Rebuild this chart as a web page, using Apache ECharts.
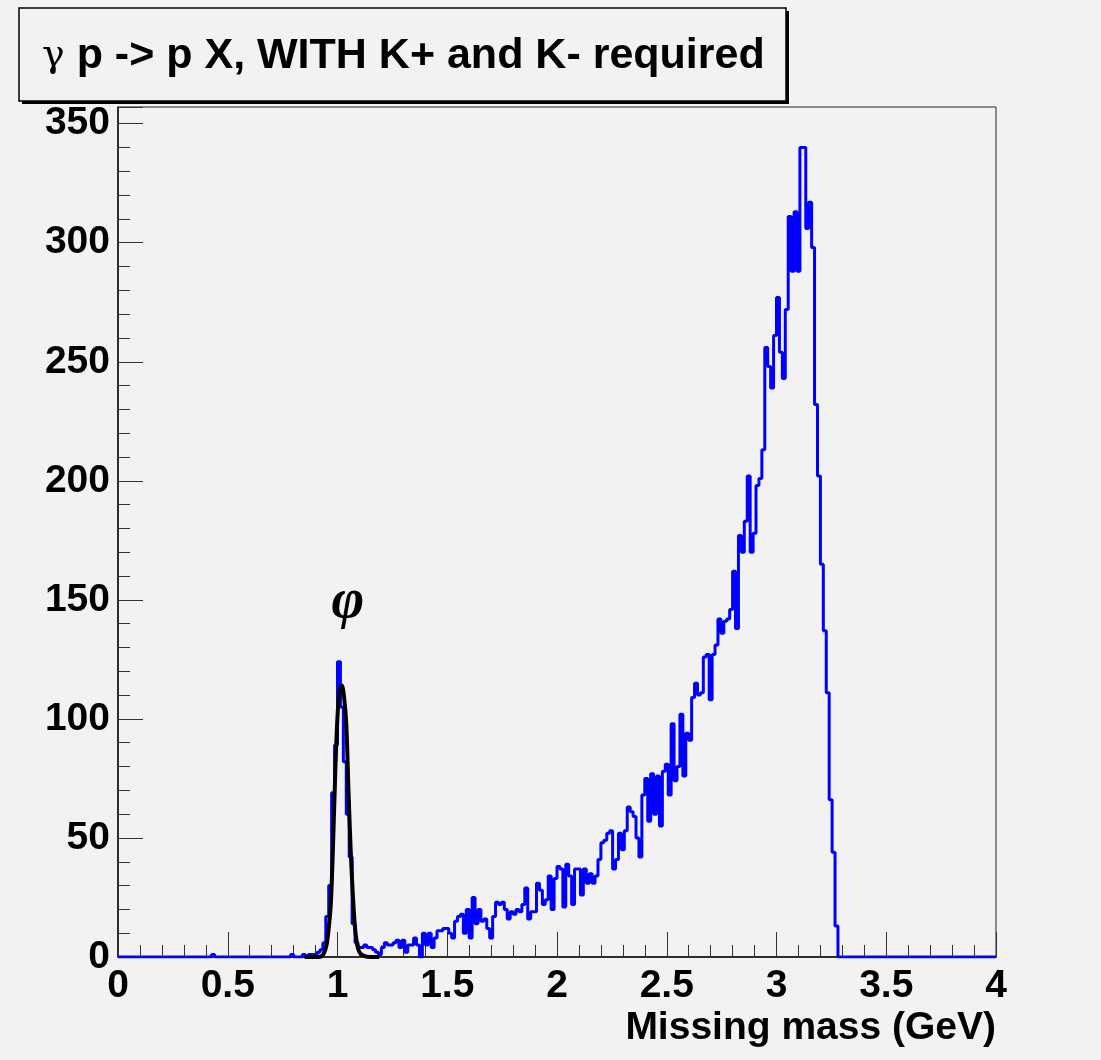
<!DOCTYPE html>
<html>
<head>
<meta charset="utf-8">
<script src="https://cdn.jsdelivr.net/npm/echarts@6/dist/echarts.min.js"></script>
<style>
html,body{margin:0;padding:0;background:#f2f2f2;}
#chart{width:1101px;height:1060px;}
</style>
</head>
<body>
<div id="chart"></div>
<script>
// Histogram: 300 bins from 0 to 4 GeV
const xMin = 0, xMax = 4, nBins = 300;
const counts = [
 0,0,0,0,0,0,0,0,0,0, 0,0,0,0,0,0,0,0,0,0, 0,0,0,0,0,0,0,0,0,0, 0,0,1,0,0,0,0,0,0,0,
 0,0,0,0,0,0,0,0,0,0, 0,0,0,0,0,0,0,0,0,1, 0,0,0,1,0,1,1,1,2,3,
 6,17,30,69,89,124,105,82,60,42, 14,6,4,4,5,4,4,3,2,1,
 4,6,5,5,6,7,4,7,2,5, 5,8,5,0,10,5,10,4,8,11,
 11,12,12,10,8,15,17,18,10,20, 8,25,14,20,15,16,12,8,17,23,
 22,23,20,16,19,18,20,19,22,29, 16,19,19,31,28,22,24,34,20,33,
 38,37,21,39,34,22,37,37,26,37, 31,35,31,34,41,48,49,52,53,37,
 41,52,45,53,63,61,59,50,42,68, 75,57,77,60,76,55,78,81,68,98,
 74,80,102,76,94,91,109,115,110,111, 126,127,108,127,131,142,136,141,142,146,
 162,138,177,170,183,202,170,178,198,201, 213,256,248,239,261,277,254,243,272,311,
 288,313,288,340,340,306,317,298,232,202, 165,137,111,66,44,13,0,0,0,0,
 0,0,0,0,0,0,0,0,0,0, 0,0,0,0,0,0,0,0,0,0, 0,0,0,0,0,0,0,0,0,0,
 0,0,0,0,0,0,0,0,0,0, 0,0,0,0,0,0,0,0,0,0
];
// Fit curve around the phi peak
const fitX = [0.85,0.88,0.91,0.93,0.94,0.95,0.96,0.97,0.98,0.99,1.00,1.01,1.02,1.03,1.04,1.05,1.06,1.07,1.08,1.09,1.10,1.12,1.15,1.19];
const fitY = [0,0,0,0.5,2,5,12,23,48,78,101,112,114,109,98,70,45,26,12,5,2,0.5,0,0];
const xTicks = ['0','0.5','1','1.5','2','2.5','3','3.5','4'];
const yTicks = [0,50,100,150,200,250,300,350];

const binW = (xMax - xMin) / nBins;
const histData = counts.map((c, i) => [xMin + i * binW, c]);
histData.push([xMax, counts[counts.length - 1]]);
const fitData = fitX.map((x, i) => [x, fitY[i]]);

const chart = echarts.init(document.getElementById('chart'), null, {renderer: 'canvas'});
const labelFont = {fontFamily: 'Liberation Sans', fontWeight: 'bold', fontSize: 39, color: '#000'};

chart.setOption({
  backgroundColor: '#f2f2f2',
  animation: false,
  grid: {left: 118, right: 105, top: 107, bottom: 103, show: true, borderColor: '#222', borderWidth: 1, backgroundColor: 'transparent'},
  xAxis: {
    type: 'value', min: xMin, max: xMax, interval: 0.5,
    axisLine: {show: true, lineStyle: {color: '#111', width: 1.5}},
    axisTick: {show: true, inside: true, length: 25, lineStyle: {color: '#333', width: 1}},
    minorTick: {show: true, splitNumber: 5, length: 12, lineStyle: {color: '#333', width: 1}},
    splitLine: {show: false},
    axisLabel: Object.assign({margin: 10, formatter: v => xTicks[Math.round(v / 0.5)] || ''}, labelFont)
  },
  yAxis: {
    type: 'value', min: 0, max: 357, interval: 50,
    axisLine: {show: true, lineStyle: {color: '#111', width: 1.5}},
    axisTick: {show: true, inside: true, length: 25, lineStyle: {color: '#333', width: 1}},
    minorTick: {show: true, splitNumber: 5, length: 12, lineStyle: {color: '#333', width: 1}},
    splitLine: {show: false},
    axisLabel: Object.assign({margin: 8, showMaxLabel: false, formatter: v => (yTicks.indexOf(v) >= 0 ? String(v) : '')}, labelFont)
  },
  series: [
    {
      type: 'line', data: histData, step: 'end', symbol: 'none',
      lineStyle: {color: '#0000ff', width: 3}, itemStyle: {color: '#0000ff'}, z: 2
    },
    {
      type: 'line', data: fitData, smooth: 0.3, symbol: 'none',
      lineStyle: {color: '#000', width: 4}, itemStyle: {color: '#000'}, z: 3
    }
  ],
  graphic: [
    {type: 'rect', shape: {x: 22, y: 11, width: 767, height: 93}, style: {fill: '#000'}, z: 10},
    {type: 'rect', shape: {x: 19, y: 8, width: 767, height: 93}, style: {fill: '#f2f2f2', stroke: '#000', lineWidth: 1.5}, z: 11},
    {type: 'text', x: 42, y: 56, z: 12, style: {
      text: '{g|γ}{t| p -> p X, WITH K+ and K- required}',
      verticalAlign: 'middle',
      rich: {
        g: {fontFamily: 'DejaVu Serif', fontSize: 38, fontWeight: 'normal', fill: '#000'},
        t: {fontFamily: 'Liberation Sans', fontSize: 43, fontWeight: 'bold', fill: '#000'}
      }
    }},
    {type: 'text', x: 348, y: 603, z: 12, style: {
      text: 'φ', fontFamily: 'Liberation Serif', fontStyle: 'italic', fontWeight: 'bold', fontSize: 56,
      fill: '#000', align: 'center', verticalAlign: 'middle'
    }},
    {type: 'text', x: 996, y: 1028, z: 12, style: {
      text: 'Missing mass (GeV)', fontFamily: 'Liberation Sans', fontWeight: 'bold', fontSize: 39,
      fill: '#000', align: 'right', verticalAlign: 'middle'
    }}
  ]
});
</script>
</body>
</html>
